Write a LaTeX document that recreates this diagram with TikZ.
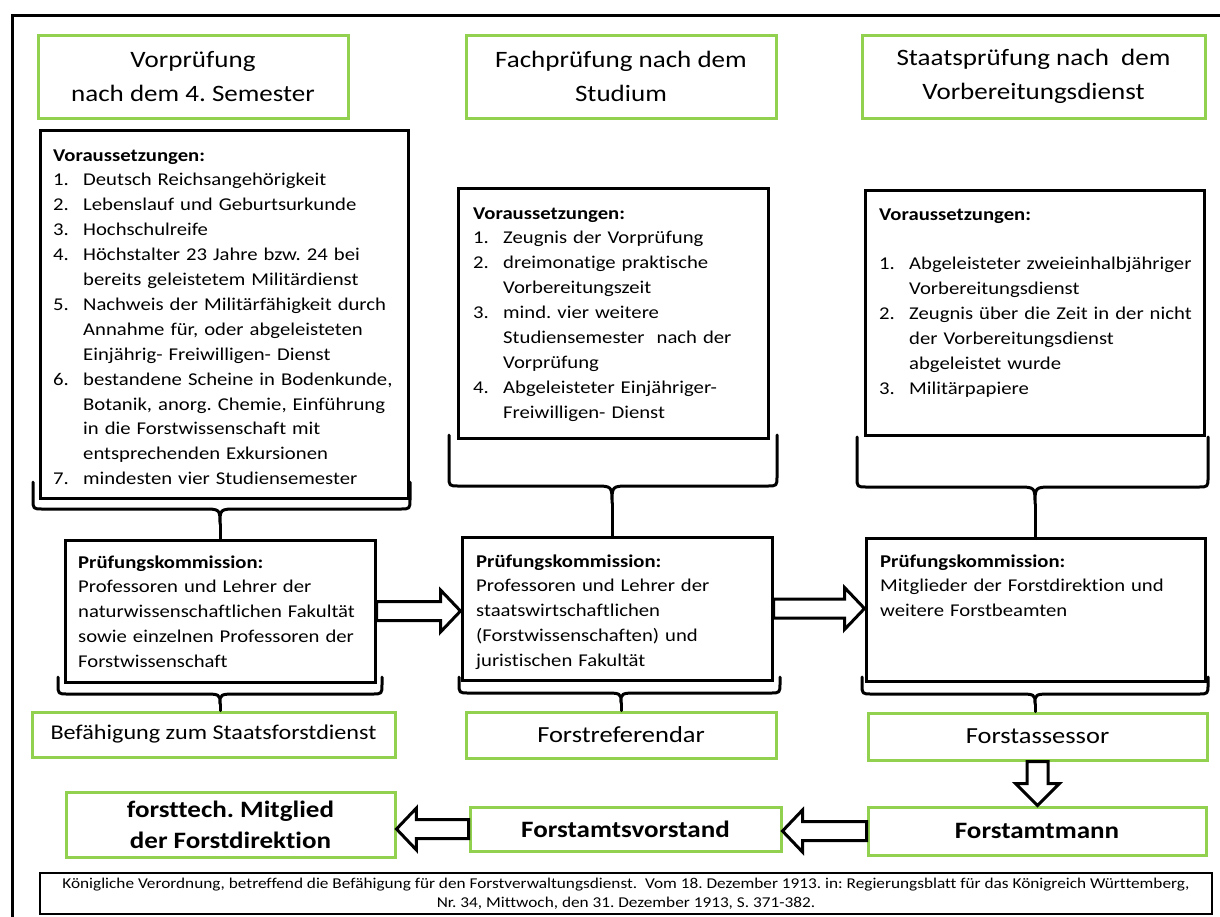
\documentclass[tikz,border=0pt]{standalone}
\usepackage{fontspec}
\setmainfont{Carlito}[FakeStretch=1.15,Ligatures=NoCommon]
\usetikzlibrary{calc}
\definecolor{grn}{RGB}{146,208,80}
\frenchspacing
\newcommand\itm[2]{\par\hangindent=30pt\hangafter=1\noindent\makebox[30pt][l]{#1}#2}
\newcommand\curly[7]{%
  \draw[brace] (#2,#4) -- (#2,#5-10) .. controls (#2,#5) .. (#2+10,#5) -- (#6-18,#5) .. controls (#6,#5) .. (#6,#5+#7)
     .. controls (#6,#5) .. (#6+18,#5) -- (#3-10,#5) .. controls (#3,#5) .. (#3,#5-10) -- (#3,#4);
  \coordinate (#1) at (#6,#5+#7);}
\newcommand\harrow[2]{%
  \draw[barrow] let \p1=(#1), \p2=(#2), \p3=($(#2)!20pt!(#1)$) in
   (\x1,\y1+9.5pt) -- (\x3,\y1+9.5pt) -- (\x3,\y1+21pt) -- (\x2,\y1)
   -- (\x3,\y1-21pt) -- (\x3,\y1-9.5pt) -- (\x1,\y1-9.5pt) -- cycle;}
\newcommand\varrow[2]{%
  \draw[barrow] let \p1=(#1), \p2=(#2), \p3=($(#2)!22pt!(#1)$) in
   (\x1-10.5pt,\y1) -- (\x1-10.5pt,\y3) -- (\x1-22pt,\y3) -- (\x1,\y2)
   -- (\x1+22pt,\y3) -- (\x1+10.5pt,\y3) -- (\x1+10.5pt,\y1) -- cycle;}
\tikzset{
  gbox/.style={draw=grn, line width=3pt, inner sep=0pt, align=center},
  kbox/.style={draw=black, line width=3pt, inner sep=0pt},
  txt/.style={inner sep=0pt, anchor=base west, text width=#1, font=\fontsize{18}{24.9}\selectfont},
  brace/.style={draw=black, line width=3pt, line join=round, line cap=round},
  barrow/.style={draw=black, line width=3pt, fill=white, line join=miter},
  hfont/.style={font=\fontsize{23.5}{34}\selectfont},
  ofont/.style={font=\fontsize{23}{30}\selectfont},
  bfont/.style={font=\fontsize{23.5}{31}\selectfont\bfseries},
}
\begin{document}
\begin{tikzpicture}[x=1pt,y=-1pt]
\useasboundingbox (0,0) rectangle (1220,916);
\fill[white] (0,0) rectangle (1220,916);
% outer frame
\draw[line width=3pt] (12,918) -- (12,15) -- (1222,15);

% headers
\node[gbox, hfont, minimum width=310pt, minimum height=83pt] (h1) at (193,76.5) {Vorprüfung\\nach dem 4. Semester};
\node[gbox, hfont, minimum width=310pt, minimum height=83pt] (h2) at (621,76.5) {Fachprüfung nach dem\\Studium};
\node[gbox, hfont, minimum width=343pt, minimum height=83pt] (h3) at (1033.5,76.5) {Staatsprüfung nach\ \ dem\\Vorbereitungsdienst};

% Voraussetzungen boxes
\node[kbox, minimum width=368pt, minimum height=368pt] (v1) at (224,314) {};
\node[kbox, minimum width=310pt, minimum height=250pt] (v2) at (613,313) {};
\node[kbox, minimum width=339pt, minimum height=245pt] (v3) at (1034.5,312.5) {};

\node[txt=350pt] (t1) at (53,161) {\raggedright\textbf{Voraussetzungen:}
 \itm{1.}{Deutsch Reichsangehörigkeit}
 \itm{2.}{Lebenslauf und Geburtsurkunde}
 \itm{3.}{Hochschulreife}
 \itm{4.}{Höchstalter 23 Jahre bzw. 24 bei\newline bereits geleistetem Militärdienst}
 \itm{5.}{Nachweis der Militärfähigkeit durch\newline Annahme für, oder abgeleisteten\newline Einjährig- Freiwilligen- Dienst}
 \itm{6.}{bestandene Scheine in Bodenkunde,\newline Botanik, anorg. Chemie, Einführung\newline in die Forstwissenschaft mit\newline entsprechenden Exkursionen}
 \itm{7.}{mindesten vier Studiensemester}\par};

\node[txt=290pt] (t2) at (473,219) {\raggedright\textbf{Voraussetzungen:}
 \itm{1.}{Zeugnis der Vorprüfung}
 \itm{2.}{dreimonatige praktische\newline Vorbereitungszeit}
 \itm{3.}{mind. vier weitere\newline Studiensemester\ \ nach der\newline Vorprüfung}
 \itm{4.}{Abgeleisteter Einjähriger-\newline Freiwilligen- Dienst}\par};

\node[txt=320pt] (t3) at (879,220) {\raggedright\textbf{Voraussetzungen:}
 \par\mbox{}
 \itm{1.}{Abgeleisteter zweieinhalbjähriger\newline Vorbereitungsdienst}
 \itm{2.}{Zeugnis über die Zeit in der nicht\newline der Vorbereitungsdienst\newline abgeleistet wurde}
 \itm{3.}{Militärpapiere}\par};

% Pruefungskommission boxes
\node[kbox, minimum width=310pt, minimum height=142pt] (p1) at (220,611) {};
\node[kbox, minimum width=310pt, minimum height=143pt] (p2) at (617,608.5) {};
\node[kbox, minimum width=339pt, minimum height=143pt] (p3) at (1035.5,609.5) {};

\node[txt=300pt] (q1) at (78,568) {\raggedright\textbf{Prüfungskommission:}\newline Professoren und Lehrer der\newline naturwissenschaftlichen Fakultät\newline sowie einzelnen Professoren der\newline Forstwissenschaft\par};
\node[txt=300pt] (q2) at (476,567) {\raggedright\textbf{Prüfungskommission:}\newline Professoren und Lehrer der\newline staatswirtschaftlichen\newline (Forstwissenschaften) und\newline juristischen Fakultät\par};
\node[txt=320pt] (q3) at (880,567) {\raggedright\textbf{Prüfungskommission:}\newline Mitglieder der Forstdirektion und\newline weitere Forstbeamten\par};

% outcome boxes
\node[gbox, font=\fontsize{21}{26}\selectfont, minimum width=363pt, minimum height=45pt] (o1) at (213.5,734.5) {Befähigung zum Staatsforstdienst};
\node[gbox, ofont, minimum width=310pt, minimum height=46pt] (o2) at (621,735) {Forstreferendar};
\node[gbox, ofont, minimum width=339pt, minimum height=47pt] (o3) at (1037.5,736.5) {Forstassessor};

% career boxes
\node[gbox, bfont, minimum width=338pt, minimum height=48pt] (b3) at (1037,831) {Forstamtmann};
\node[gbox, bfont, minimum width=311pt, minimum height=44pt] (b2) at (625.5,829) {Forstamtsvorstand};
\node[gbox, bfont, minimum width=329pt, minimum height=65pt] (b1) at (230.5,824.5) {forsttech. Mitglied\\der Forstdirektion};

% citation
\node[kbox, line width=2.5pt, align=center, minimum width=1172pt, minimum height=41pt, font=\fontsize{15}{19}\selectfont] (cit) at (626,893.5) {Königliche Verordnung, betreffend die Befähigung für den Forstverwaltungsdienst.\ \ Vom 18. Dezember 1913. in: Regierungsblatt für das Königreich Württemberg,\\Nr. 34, Mittwoch, den 31. Dezember 1913, S. 371-382.};

% braces
\curly{s1}{33}{410}{482}{509}{220}{15}
\curly{s2}{449}{777}{435}{486}{612}{17}
\curly{s3}{857}{1208}{437}{487}{1035}{17}
\draw[brace] (s1) -- (s1 |- p1.north);
\draw[brace] (s2) -- (s2 |- p2.north);
\draw[brace] (s3) -- (s3 |- p3.north);
\curly{r1}{58}{382}{677}{694}{220}{10}
\curly{r2}{459}{780}{677}{693}{621}{10}
\curly{r3}{862}{1208}{677}{694}{1035}{10}
\draw[brace] (r1) -- (r1 |- o1.north);
\draw[brace] (r2) -- (r2 |- o2.north);
\draw[brace] (r3) -- (r3 |- o3.north);

% block arrows
\harrow{p1.east}{p2.west}
\harrow{p2.east}{p3.west}
\varrow{o3.south}{b3.north}
\harrow{b3.west}{b2.east}
\harrow{b2.west}{b1.east}
\end{tikzpicture}
\end{document}
